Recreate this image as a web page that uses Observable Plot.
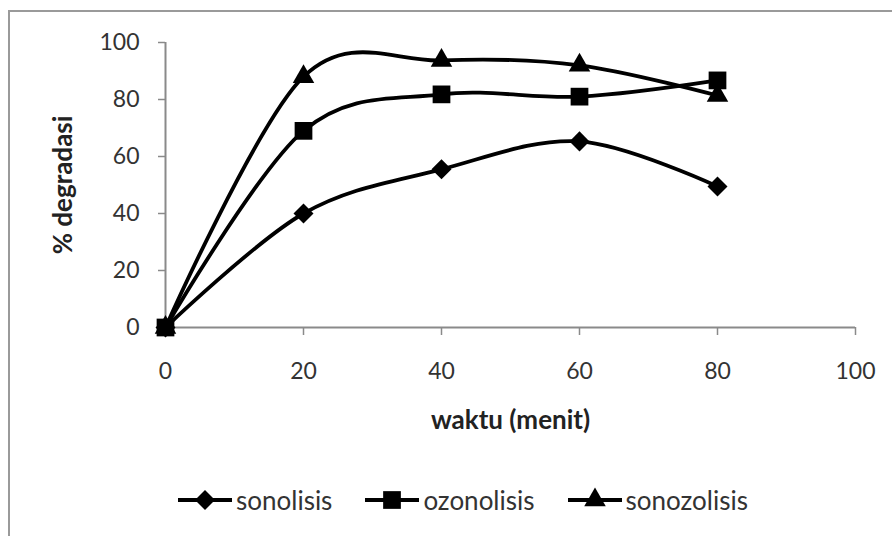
<!DOCTYPE html>
<html>
<head>
<meta charset="utf-8">
<script src="https://cdn.jsdelivr.net/npm/d3@7"></script>
<script src="https://cdn.jsdelivr.net/npm/@observablehq/plot@0.6"></script>
<style>
  html, body { margin: 0; padding: 0; background: #fff; overflow: hidden; }
  body { width: 892px; height: 536px; position: relative; font-family: Lato, "Open Sans", sans-serif; }
  #frame { position: absolute; left: 8px; top: 10px; width: 900px; height: 540px;
           border-left: 2px solid #9a9a9a; border-top: 2px solid #9a9a9a; box-sizing: border-box; }
  #chart { position: absolute; left: 0; top: 0; }
  #legend { position: absolute; left: 177px; top: 485px; display: flex; align-items: center;
            font-size: 26px; color: #333; line-height: 30px; }
  #legend .item { display: flex; align-items: center; margin-right: 32px; }
  #legend .item span { margin-left: 3px; }
</style>
</head>
<body>
<div id="frame"></div>
<div id="chart"></div>
<div id="legend"></div>
<script>
// ---- data ----
const times = [0, 20, 40, 60, 80];
const sonolisis = [0, 40, 55.5, 65.3, 49.5];
const ozonolisis = [0, 69, 81.8, 81, 86.7];
const sonozolisis = [0, 88, 93.7, 92, 81.4];
const seriesNames = ["sonolisis", "ozonolisis", "sonozolisis"];
const xTicks = [0, 20, 40, 60, 80, 100];
const yTicks = [0, 20, 40, 60, 80, 100];
const xLabel = "waktu (menit)";
const yLabel = "% degradasi";

// custom rotated-square diamond (Excel style)
const diamondSym = {
  draw(ctx, size) {
    const r = Math.sqrt(size / 2);
    ctx.moveTo(0, -r); ctx.lineTo(r, 0); ctx.lineTo(0, r); ctx.lineTo(-r, 0); ctx.closePath();
  }
};
const symbols = {sonolisis: diamondSym, ozonolisis: d3.symbolSquare, sonozolisis: d3.symbolTriangle};
const radii = {sonolisis: 8, ozonolisis: 10, sonozolisis: 8};

const valuesBy = {sonolisis, ozonolisis, sonozolisis};
const rows = seriesNames.flatMap(s => times.map((t, i) => ({series: s, t, v: valuesBy[s][i]})));

const marks = [
  Plot.ruleX([0], {stroke: "#8a8a8a", strokeWidth: 2, y1: 0, y2: 100}),
  Plot.ruleY([0], {stroke: "#8a8a8a", strokeWidth: 2, x1: 0, x2: 100}),
  Plot.axisX({ticks: xTicks, tickSize: 8, tickPadding: 27, stroke: "#8a8a8a", strokeWidth: 1.5, label: null, fill: "#333", fontSize: 23}),
  Plot.axisY({ticks: yTicks, tickSize: 7, tickPadding: 19, stroke: "#8a8a8a", strokeWidth: 1.5, label: null, fill: "#333", fontSize: 23}),
  Plot.text([xLabel], {frameAnchor: "bottom", dy: 101, fontWeight: "bold", fontSize: 26, fill: "#222"}),
  Plot.text([yLabel], {frameAnchor: "left", textAnchor: "middle", dx: -102, rotate: -90, fontWeight: "bold", fontSize: 26, fill: "#222"})
];
for (const s of seriesNames) {
  const data = rows.filter(d => d.series === s);
  marks.push(Plot.line(data, {x: "t", y: "v", stroke: "black", strokeWidth: 3.8, curve: "cardinal"}));
}
for (const s of seriesNames) {
  const data = rows.filter(d => d.series === s);
  marks.push(Plot.dot(data, {x: "t", y: "v", r: radii[s], symbol: () => symbols[s], fill: "black", stroke: "none"}));
}

const chart = Plot.plot({
  width: 892,
  height: 470,
  marginLeft: 165,
  marginRight: 37,
  marginTop: 42,
  marginBottom: 143,
  style: {fontFamily: "Lato, 'Open Sans', sans-serif", fontSize: "23px", background: "transparent", color: "#333"},
  x: {domain: [0, 100]},
  y: {domain: [0, 100]},
  symbol: {type: "identity"},
  marks
});
document.getElementById("chart").appendChild(chart);

// legend
const legend = d3.select("#legend");
for (const s of seriesNames) {
  const item = legend.append("div").attr("class", "item");
  const svg = item.append("svg").attr("width", 56).attr("height", 26);
  svg.append("line").attr("x1", 1).attr("x2", 55).attr("y1", 13).attr("y2", 13)
     .attr("stroke", "black").attr("stroke-width", 3.8);
  const r = radii[s];
  svg.append("path").attr("transform", "translate(28,13)")
     .attr("d", d3.symbol(symbols[s], Math.PI * r * r)()).attr("fill", "black");
  item.append("span").text(s);
}
</script>
</body>
</html>
